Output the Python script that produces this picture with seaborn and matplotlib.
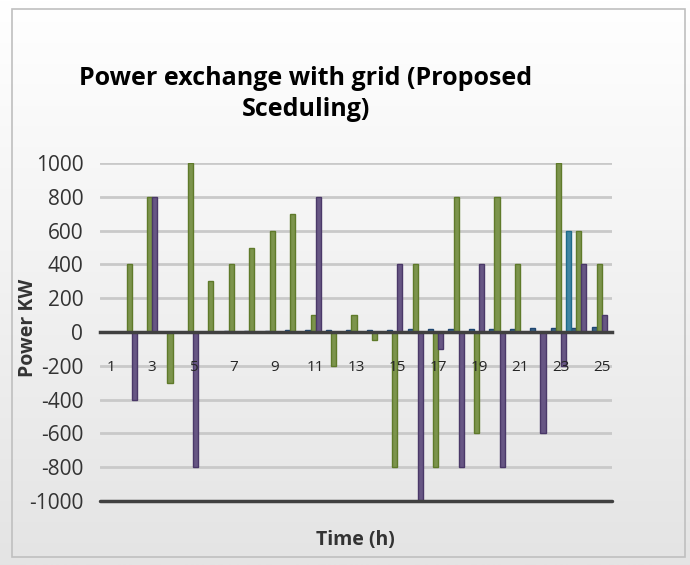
import numpy as np
import pandas as pd
import matplotlib
matplotlib.use("Agg")
import matplotlib.pyplot as plt
import seaborn as sns
from matplotlib.patches import Rectangle
from matplotlib.colors import LinearSegmentedColormap

# ---- data ----
hours = list(range(1, 26))
series_a = [0, 0, 0, 0, 0, 2, 4, 6, 8, 9, 10, 11, 12, 13, 14, 15, 16, 17, 18, 19, 20, 22, 24, 26, 28]
series_b = [0, 400, 800, -300, 1000, 300, 400, 500, 600, 700, 100, -200, 100, -50, -800,
            400, -800, 800, -600, 800, 400, 0, 1000, 600, 400]
series_c = [0, -400, 800, 0, -800, 0, 0, 0, 0, 0, 800, 0, 0, 0, 400,
            -1000, -100, -800, 400, -800, 0, -600, -200, 400, 100]
series_d = [0, 0, 0, 0, 0, 0, 0, 0, 0, 0, 0, 0, 0, 0, 0,
            0, 0, 0, 0, 0, 0, 0, 600, 0, 0]
series_names = ["Series1", "Series2", "Series3", "Series4"]
x_tick_labels = [str(h) for h in hours[::2]]
y_ticks = [-1000, -800, -600, -400, -200, 0, 200, 400, 600, 800, 1000]

colors = ["#2d5f93", "#80a040", "#654e8c", "#2f8db3"]
edge_colors = ["#1f4670", "#5f7a2a", "#4a3868", "#1f6a88"]

df = pd.DataFrame({
    "Time": hours * 4,
    "Power": series_a + series_b + series_c + series_d,
    "Series": sum([[n] * len(hours) for n in series_names], []),
})

sns.set_theme(style="white")
plt.rcParams["font.family"] = ["Open Sans", "DejaVu Sans"]

fig = plt.figure(figsize=(6.9, 5.65), dpi=100)

# gradient background
bg = fig.add_axes([0, 0, 1, 1], zorder=-10)
grad = np.linspace(0, 1, 256).reshape(-1, 1)
cmap = LinearSegmentedColormap.from_list("bg", ["#ffffff", "#e4e4e4"])
bg.imshow(grad, aspect="auto", cmap=cmap, extent=[0, 1, 0, 1], origin="upper")
bg.set_axis_off()
fig.patches.append(Rectangle((12 / 690, 8 / 565), 673 / 690, 548 / 565, transform=fig.transFigure,
                             fill=False, edgecolor="#bfbfbf", linewidth=1.2))

ax = fig.add_axes([100 / 690, 1 - 501 / 565, 512 / 690, 338 / 565])
ax.set_facecolor("none")

sns.barplot(data=df, x="Time", y="Power", hue="Series", hue_order=series_names,
            palette=colors, errorbar=None, width=1.0, legend=False, ax=ax,
            linewidth=1.0, zorder=3)
for i, cont in enumerate(ax.containers):
    for p in cont:
        p.set_edgecolor(edge_colors[i])

ax.set_ylim(-1000, 1000)
ax.set_xlim(-0.55, 24.5)
ax.set_yticks(y_ticks)
ax.set_yticklabels([str(v) for v in y_ticks], fontsize=15, color="#333333")
ax.tick_params(axis="y", length=0, pad=12)

ax.set_xticks(list(range(0, 25, 2)))
ax.set_xticklabels(x_tick_labels, fontsize=15, color="#333333")
ax.tick_params(axis="x", length=0, pad=20)
ax.xaxis.set_zorder(5)

for s in ["top", "right", "left"]:
    ax.spines[s].set_visible(False)
ax.spines["bottom"].set_position(("data", 0))
ax.spines["bottom"].set_color("#404040")
ax.spines["bottom"].set_linewidth(2.5)
ax.spines["bottom"].set_zorder(4)

for v in y_ticks:
    if v in (0, -1000):
        continue
    ax.axhline(v, color="#c9c9c9", linewidth=2.0, zorder=1)
ax.axhline(-1000, color="#404040", linewidth=2.5, zorder=4, clip_on=False)

ax.set_xlabel("")
ax.set_ylabel("")

fig.text(306 / 690, 1 - 94 / 565, "Power exchange with grid (Proposed\nSceduling)",
         ha="center", va="center", fontsize=18, fontweight="bold", color="#000000",
         linespacing=1.3)
fig.text(355 / 690, 1 - 540 / 565, "Time (h)", ha="center", va="center",
         fontsize=14, fontweight="bold", color="#333333")
fig.text(28 / 690, 1 - 328 / 565, "Power KW", ha="center", va="center", rotation=90,
         fontsize=14, fontweight="bold", color="#333333")

fig.savefig("out.png", dpi=100)
